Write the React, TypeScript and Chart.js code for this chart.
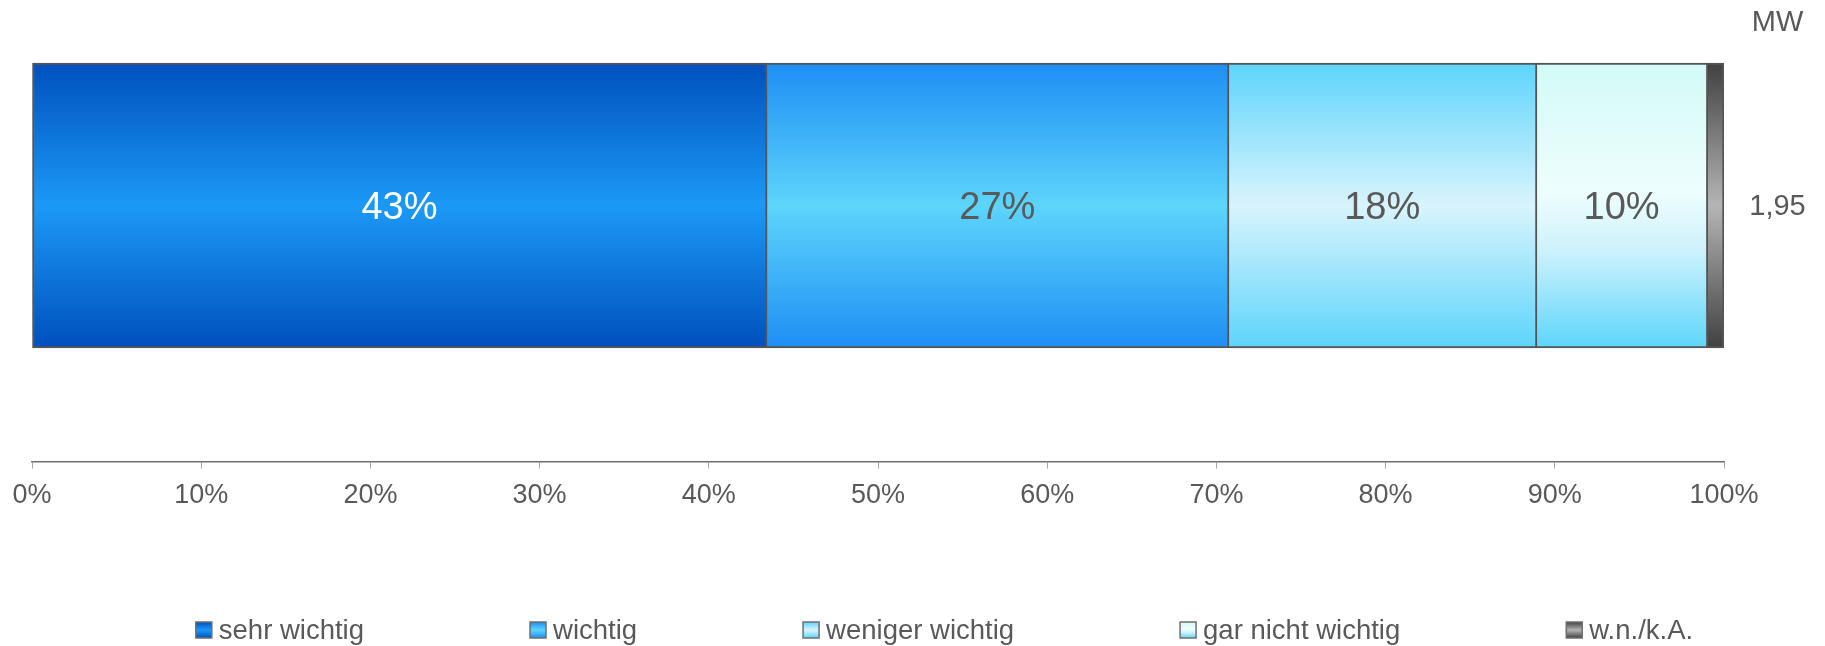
import { useEffect, useRef } from 'react';
import { Chart, registerables } from 'chart.js';

Chart.register(...registerables);

// ---- data ----
const categories = ['sehr wichtig', 'wichtig', 'weniger wichtig', 'gar nicht wichtig', 'w.n./k.A.'];
const values = [43.4, 27.3, 18.2, 10.1, 1.0];
const valueLabels = ['43%', '27%', '18%', '10%', ''];
const meanHeader = 'MW';
const meanValue = '1,95';
const xMin = 0;
const xMax = 100;
const xStep = 10;

// ---- styles ----
const FONT = "'Liberation Sans', Arial, sans-serif";
const TEXT = '#595959';
const BAR_THICKNESS = 285;
const gradientStops: [number, string][][] = [
  [[0, '#0050BD'], [0.5, '#1C99F7'], [1, '#0050BD']],
  [[0, '#1E8EF4'], [0.5, '#5DD5FB'], [1, '#1E8EF4']],
  [[0, '#5DD4FB'], [0.5, '#D9F4FD'], [1, '#5DD4FB']],
  [[0, '#D2FAF6'], [0.45, '#EEFEFE'], [0.65, '#CFF2FC'], [1, '#5DD6FB']],
  [[0, '#404040'], [0.5, '#B5B5B5'], [1, '#404040']],
];
const labelColors = ['#ffffff', TEXT, TEXT, TEXT, TEXT];

function makeGradient(ctx: CanvasRenderingContext2D, y0: number, y1: number, stops: [number, string][]) {
  const g = ctx.createLinearGradient(0, y0, 0, y1);
  stops.forEach(([o, c]) => g.addColorStop(o, c));
  return g;
}

const overlayPlugin = {
  id: 'overlay',
  afterDatasetsDraw(chart: any) {
    const ctx: CanvasRenderingContext2D = chart.ctx;
    const area = chart.chartArea;
    ctx.save();
    // value labels inside bars
    ctx.font = `38px ${FONT}`;
    ctx.textAlign = 'center';
    ctx.textBaseline = 'middle';
    let barY = 0;
    chart.data.datasets.forEach((_: any, i: number) => {
      const el = chart.getDatasetMeta(i).data[0];
      if (!el) return;
      barY = el.y;
      const txt = valueLabels[i];
      if (!txt) return;
      ctx.fillStyle = labelColors[i];
      ctx.fillText(txt, (el.x + el.base) / 2, el.y + 3);
    });
    // mean column
    const cx = area.right + (chart.width - area.right) / 2 + 3;
    ctx.fillStyle = TEXT;
    ctx.font = `29px ${FONT}`;
    ctx.fillText(meanHeader, cx, 23);
    ctx.font = `29px ${FONT}`;
    ctx.fillText(meanValue, cx, barY + 2);

    // legend
    const fs = 27.5;
    ctx.font = `${fs}px ${FONT}`;
    const box = 16;
    const boxGap = 7;
    const itemGap = 166;
    const widths = categories.map((c) => ctx.measureText(c).width);
    const total = widths.reduce((a, w) => a + box + boxGap + w, 0) + itemGap * (categories.length - 1);
    let x = chart.width / 2 + 32 - total / 2;
    const ly = chart.height - 16;
    ctx.textAlign = 'left';
    categories.forEach((c, i) => {
      const top = ly - box / 2;
      ctx.fillStyle = makeGradient(ctx, top, top + box, gradientStops[i]);
      ctx.fillRect(x, top, box, box);
      ctx.strokeStyle = '#6f6f6f';
      ctx.lineWidth = 1.5;
      ctx.strokeRect(x, top, box, box);
      ctx.fillStyle = TEXT;
      ctx.fillText(c, x + box + boxGap, ly + 1);
      x += box + boxGap + widths[i] + itemGap;
    });
    ctx.restore();
  },
};

export default function App() {
  const ref = useRef<HTMLCanvasElement>(null);
  useEffect(() => {
    if (!ref.current) return;
    const last = values.length - 1;
    const chart = new Chart(ref.current, {
      type: 'bar',
      data: {
        datasets: values.map((v, i) => ({
          label: categories[i],
          data: [{ x: v, y: 0 }],
          backgroundColor: (c: any) => {
            const ch = c.chart;
            if (!ch.chartArea || !ch.scales.y) return gradientStops[i][1][1];
            const mid = ch.scales.y.getPixelForValue(0);
            return makeGradient(ch.ctx, mid - BAR_THICKNESS / 2, mid + BAR_THICKNESS / 2, gradientStops[i]);
          },
          borderColor: '#555555',
          borderWidth: { top: 2, bottom: 2, left: i === 0 ? 2 : 1.25, right: i === last ? 2 : 1.25 },
          borderSkipped: false,
          barThickness: BAR_THICKNESS,
        })),
      } as any,
      options: {
        indexAxis: 'y',
        responsive: false,
        animation: false,
        layout: { padding: { top: 62, left: 32, right: 101, bottom: 123 } },
        plugins: { legend: { display: false }, tooltip: { enabled: false } },
        scales: {
          y: { type: 'linear', min: -1.98, max: 1, stacked: true, display: false },
          x: {
            type: 'linear',
            stacked: true,
            min: xMin,
            max: xMax,
            ticks: {
              stepSize: xStep,
              color: TEXT,
              font: { size: 27, family: FONT },
              padding: 11,
              callback: (v: any) => `${v}%`,
            },
            grid: { display: true, drawOnChartArea: false, drawTicks: true, tickLength: 7, color: '#a6a6a6' },
            border: { display: true, color: '#6e6e6e', width: 1.5 },
          },
        },
      } as any,
      plugins: [overlayPlugin],
    });
    return () => chart.destroy();
  }, []);
  return (
    <div style={{ position: 'absolute', left: 0, top: 0, width: 1825, height: 646, background: '#fff' }}>
      <canvas ref={ref} width={1825} height={646} style={{ display: 'block' }} />
    </div>
  );
}
